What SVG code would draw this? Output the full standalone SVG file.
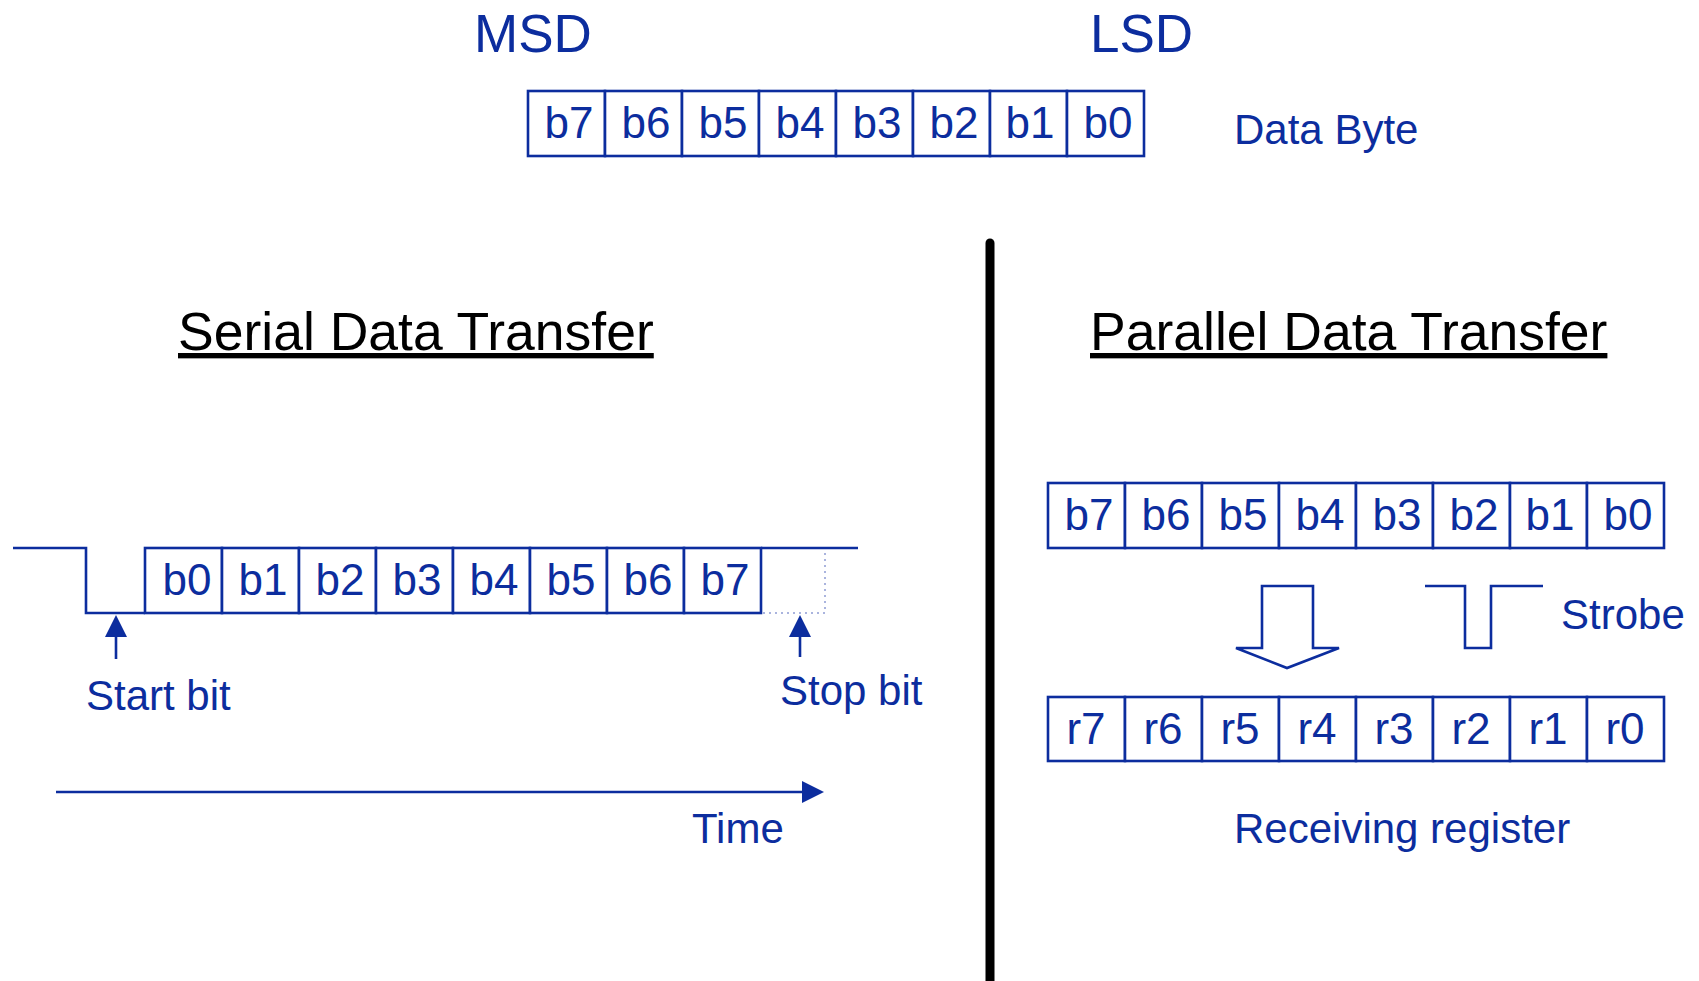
<svg xmlns="http://www.w3.org/2000/svg" width="1699" height="981" viewBox="0 0 1699 981">
  <defs>
    <style>
      .ink { stroke: #0c2d9e; stroke-width: 2.6; fill: none; }
      .cell { stroke: #0c2d9e; stroke-width: 2.6; fill: #ffffff; }
      .bit { font-family: "Liberation Sans", Arial, sans-serif; font-size: 44px; fill: #0c2d9e; text-anchor: middle; }
      .lbl { font-family: "Liberation Sans", Arial, sans-serif; font-size: 42px; fill: #0c2d9e; }
      .big { font-family: "Liberation Sans", Arial, sans-serif; font-size: 53px; fill: #0c2d9e; }
      .title { font-family: "Liberation Sans", Arial, sans-serif; font-size: 53.5px; fill: #000000; text-decoration: underline; }
      .head { fill: #0c2d9e; stroke: none; }
    </style>
  </defs>
  <rect width="1699" height="981" fill="#ffffff"/>

  <!-- Data byte at the top -->
  <g id="data-byte">
    <text class="big" x="474" y="52">MSD</text>
    <text class="big" x="1090" y="52">LSD</text>
    <g id="byte-cells">
      <rect class="cell" x="528" y="91" width="77" height="65"/>
      <rect class="cell" x="605" y="91" width="77" height="65"/>
      <rect class="cell" x="682" y="91" width="77" height="65"/>
      <rect class="cell" x="759" y="91" width="77" height="65"/>
      <rect class="cell" x="836" y="91" width="77" height="65"/>
      <rect class="cell" x="913" y="91" width="77" height="65"/>
      <rect class="cell" x="990" y="91" width="77" height="65"/>
      <rect class="cell" x="1067" y="91" width="77" height="65"/>
      <text class="bit" x="569" y="138">b7</text>
      <text class="bit" x="646" y="138">b6</text>
      <text class="bit" x="723" y="138">b5</text>
      <text class="bit" x="800" y="138">b4</text>
      <text class="bit" x="877" y="138">b3</text>
      <text class="bit" x="954" y="138">b2</text>
      <text class="bit" x="1030" y="138">b1</text>
      <text class="bit" x="1108" y="138">b0</text>
    </g>
    <text class="lbl" x="1234" y="144">Data Byte</text>
  </g>

  <!-- Divider between the two halves -->
  <line id="divider" x1="990" y1="243" x2="990" y2="990" stroke="#000000" stroke-width="9" stroke-linecap="round"/>

  <!-- Serial transfer -->
  <g id="serial">
    <text class="title" x="178" y="350">Serial Data Transfer</text>
    <g id="serial-frame">
      <rect class="cell" x="145" y="548" width="77" height="65"/>
      <rect class="cell" x="222" y="548" width="77" height="65"/>
      <rect class="cell" x="299" y="548" width="77" height="65"/>
      <rect class="cell" x="376" y="548" width="77" height="65"/>
      <rect class="cell" x="453" y="548" width="77" height="65"/>
      <rect class="cell" x="530" y="548" width="77" height="65"/>
      <rect class="cell" x="607" y="548" width="77" height="65"/>
      <rect class="cell" x="684" y="548" width="77" height="65"/>
      <text class="bit" x="187" y="595">b0</text>
      <text class="bit" x="263" y="595">b1</text>
      <text class="bit" x="340" y="595">b2</text>
      <text class="bit" x="417" y="595">b3</text>
      <text class="bit" x="494" y="595">b4</text>
      <text class="bit" x="571" y="595">b5</text>
      <text class="bit" x="648" y="595">b6</text>
      <text class="bit" x="725" y="595">b7</text>
    </g>
    <!-- idle line, start bit low pulse, stop bit high -->
    <polyline class="ink" points="13,548 86,548 86,613 145,613"/>
    <line class="ink" x1="761" y1="548" x2="858" y2="548"/>
    <polyline points="763,613 825,613 825,553" fill="none" stroke="#aab4de" stroke-width="2" stroke-dasharray="2 4"/>
  </g>

  <g id="start-bit">
    <line class="ink" x1="116" y1="659" x2="116" y2="634"/>
    <polygon class="head" points="116,615 105,637 127,637"/>
    <text class="lbl" x="86" y="710" font-size="41">Start bit</text>
  </g>

  <g id="stop-bit">
    <line class="ink" x1="800" y1="657" x2="800" y2="634"/>
    <polygon class="head" points="800,615 789,637 811,637"/>
    <text class="lbl" x="780" y="705" font-size="41">Stop bit</text>
  </g>

  <g id="time-axis">
    <line class="ink" x1="56" y1="792" x2="806" y2="792" stroke-width="3"/>
    <polygon class="head" points="802,781 824,792 802,803"/>
    <text class="lbl" x="692" y="843" font-size="43.5">Time</text>
  </g>

  <!-- Parallel transfer -->
  <g id="parallel">
    <text class="title" x="1090" y="350">Parallel Data Transfer</text>
  </g>

  <g id="source-register">
    <rect class="cell" x="1048" y="483" width="77" height="65"/>
    <rect class="cell" x="1125" y="483" width="77" height="65"/>
    <rect class="cell" x="1202" y="483" width="77" height="65"/>
    <rect class="cell" x="1279" y="483" width="77" height="65"/>
    <rect class="cell" x="1356" y="483" width="77" height="65"/>
    <rect class="cell" x="1433" y="483" width="77" height="65"/>
    <rect class="cell" x="1510" y="483" width="77" height="65"/>
    <rect class="cell" x="1587" y="483" width="77" height="65"/>
    <text class="bit" x="1089" y="530">b7</text>
    <text class="bit" x="1166" y="530">b6</text>
    <text class="bit" x="1243" y="530">b5</text>
    <text class="bit" x="1320" y="530">b4</text>
    <text class="bit" x="1397" y="530">b3</text>
    <text class="bit" x="1474" y="530">b2</text>
    <text class="bit" x="1550" y="530">b1</text>
    <text class="bit" x="1628" y="530">b0</text>
  </g>

  <g id="transfer-arrow">
    <polygon class="ink" points="1262,586 1313,586 1313,648 1339,648 1287,668 1236,648 1262,648"/>
  </g>

  <g id="strobe">
    <polyline class="ink" points="1425,586 1465,586 1465,648 1491,648 1491,586 1543,586"/>
    <text class="lbl" x="1561" y="629">Strobe</text>
  </g>

  <g id="receiving-register">
    <rect class="cell" x="1048" y="697" width="77" height="64"/>
    <rect class="cell" x="1125" y="697" width="77" height="64"/>
    <rect class="cell" x="1202" y="697" width="77" height="64"/>
    <rect class="cell" x="1279" y="697" width="77" height="64"/>
    <rect class="cell" x="1356" y="697" width="77" height="64"/>
    <rect class="cell" x="1433" y="697" width="77" height="64"/>
    <rect class="cell" x="1510" y="697" width="77" height="64"/>
    <rect class="cell" x="1587" y="697" width="77" height="64"/>
    <text class="bit" x="1086" y="744">r7</text>
    <text class="bit" x="1163" y="744">r6</text>
    <text class="bit" x="1240" y="744">r5</text>
    <text class="bit" x="1317" y="744">r4</text>
    <text class="bit" x="1394" y="744">r3</text>
    <text class="bit" x="1471" y="744">r2</text>
    <text class="bit" x="1548" y="744">r1</text>
    <text class="bit" x="1625" y="744">r0</text>
    <text class="lbl" x="1234" y="843">Receiving register</text>
  </g>
</svg>
